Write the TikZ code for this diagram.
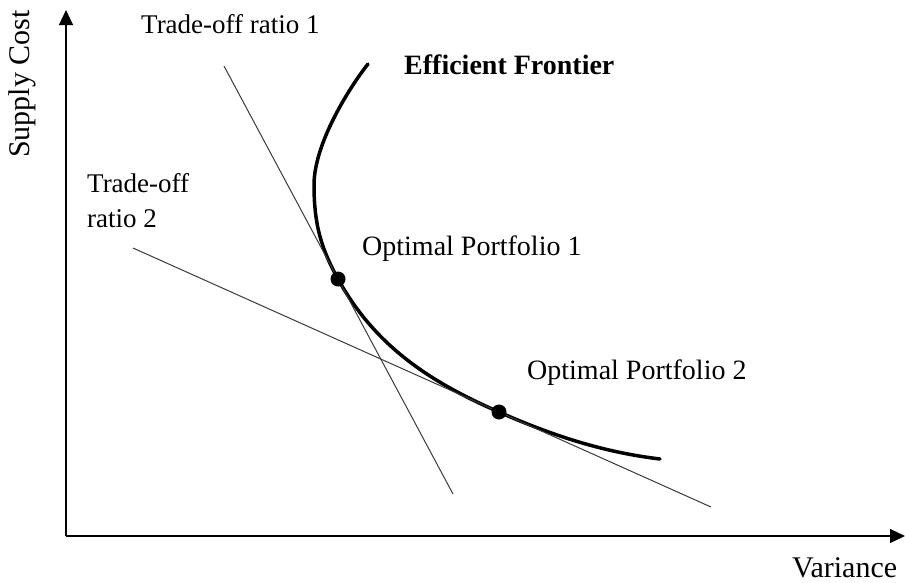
\documentclass[tikz,border=0pt]{standalone}
\usepackage{fontspec}
\setmainfont{Liberation Serif}
\usetikzlibrary{arrows.meta, positioning}
\definecolor{cAxis}{HTML}{000000}
\definecolor{cRatio}{HTML}{3A3A3A}
\tikzset{
  axis/.style     ={line width=1.2pt, draw=cAxis, -{Triangle[length=15pt, width=14pt]}},
  ratioline/.style={line width=1pt, draw=cRatio},
  frontier/.style ={line width=3.5pt, draw=black, line cap=round},
  optdot/.style   ={circle, fill=black, inner sep=0pt, minimum size=15pt},
  lbl/.style      ={font=\fontsize{27}{35}\selectfont, inner sep=0pt, align=left},
  biglbl/.style   ={lbl, font=\fontsize{28}{35}\selectfont},
  axislbl/.style  ={lbl, font=\fontsize{30}{36}\selectfont}
}

\begin{document}
\begin{tikzpicture}[x=1pt, y=-1pt]
  \useasboundingbox (0,0) rectangle (905,582);

  % ====================== Axes ======================
  \coordinate (origin) at (66,536);
  \coordinate (ytip)   at (66,10);
  \coordinate (xtip)   at (905,536);
  \draw[axis] (origin) -- (ytip);
  \draw[axis] (origin) -- (xtip);

  \node[axislbl, rotate=90, anchor=base west] (ylabel) at (29,158) {Supply Cost};
  \node[axislbl, anchor=base west] (xlabel) at (792,577) {Variance};

  % ====================== Efficient frontier ======================
  \coordinate (fstart) at (368,64);
  \coordinate (fleft)  at (314,185);
  \coordinate (p1)     at (338,279);
  \coordinate (p2)     at (499,412);
  \coordinate (fend)   at (660,459);

  \draw[frontier] (fstart)
        .. controls (352,84) and (314,142) .. (fleft)
        .. controls (314,226) and (322,250) .. (p1)
        .. controls (375,346) and (430,382) .. (p2)
        .. controls (560,439) and (610,453) .. (fend);

  % ====================== Trade-off lines ======================
  \coordinate (r1a) at (224,66);
  \coordinate (r1b) at (453,494);
  \coordinate (r2a) at (133,248);
  \coordinate (r2b) at (711,507);
  \draw[ratioline] (r1a) -- (r1b);
  \draw[ratioline] (r2a) -- (r2b);

  % ====================== Optimal portfolios ======================
  \node[optdot] (opt1) at (p1) {};
  \node[optdot] (opt2) at (p2) {};

  % ====================== Labels ======================
  \node[lbl, anchor=base west] (ratio1) at (141,33) {Trade-off ratio 1};
  \node[biglbl, anchor=base west, font=\fontsize{28}{35}\selectfont\bfseries]
        (eflabel) at (404,74) {Efficient Frontier};
  \node[lbl, anchor=base west] (ratio2) at (87,227) {Trade-off\\ratio 2};
  \node[biglbl, anchor=base west] (opt1lbl) at (362,255) {Optimal Portfolio 1};
  \node[biglbl, anchor=base west] (opt2lbl) at (527,379) {Optimal Portfolio 2};

\end{tikzpicture}
\end{document}
